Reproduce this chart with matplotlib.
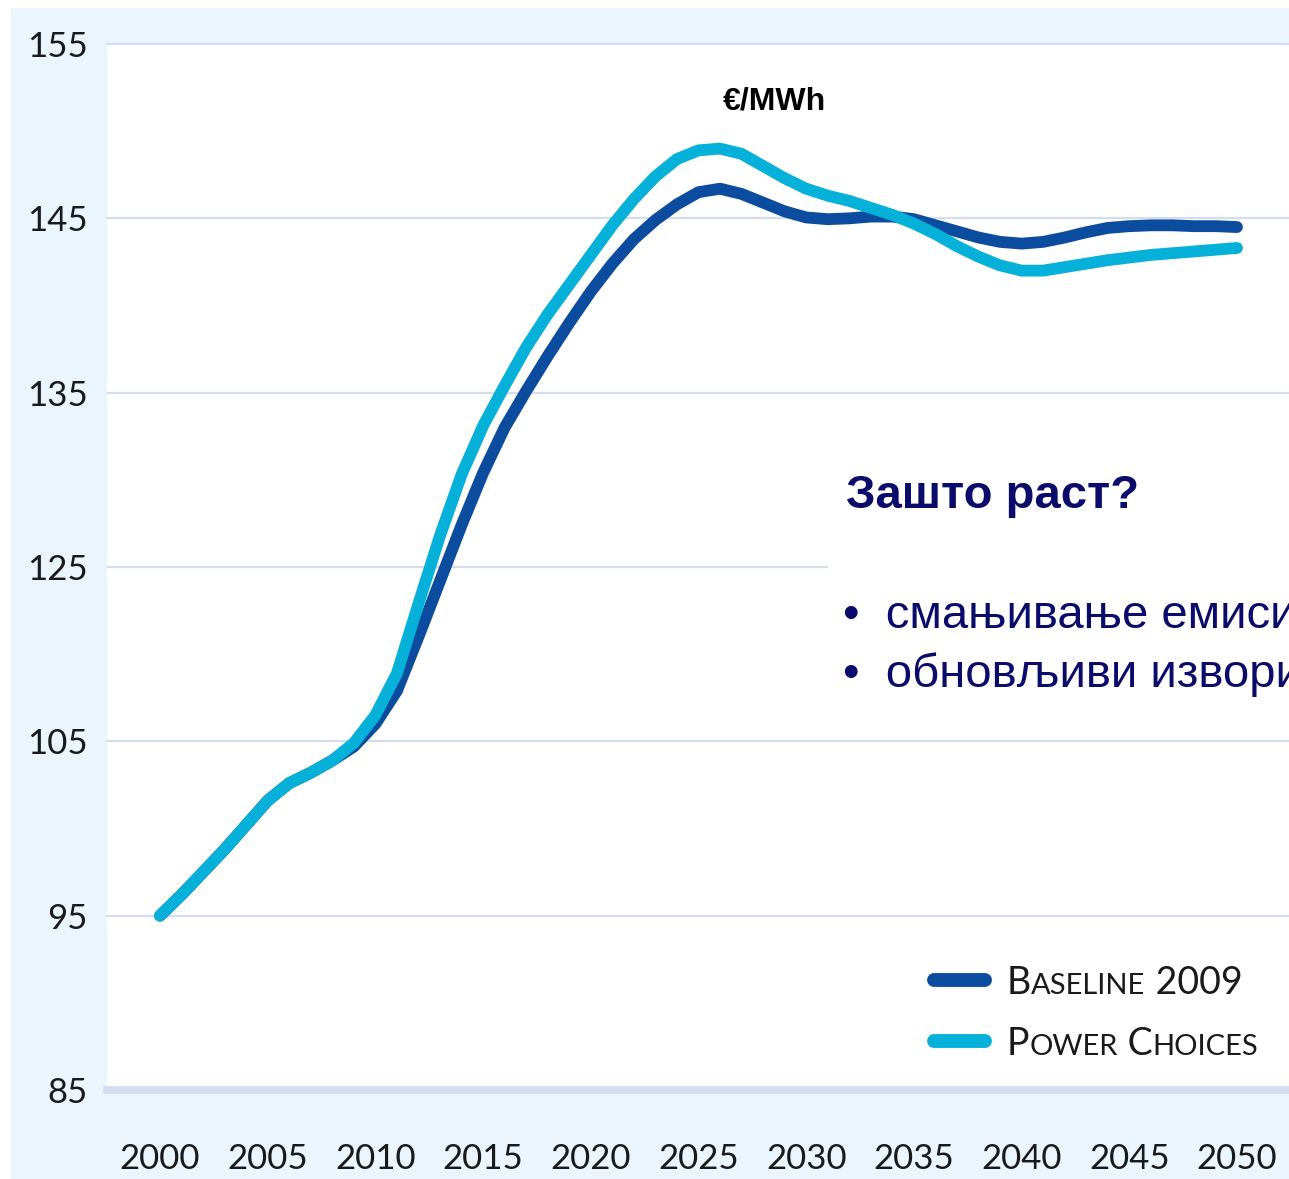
import matplotlib
matplotlib.use("Agg")
import numpy as np
import matplotlib.pyplot as plt
from matplotlib.patches import Rectangle
from matplotlib.ticker import NullLocator

# ---------- data (labelled axis units) ----------
years = list(range(2000, 2051))

baseline_2009 = [
    95.0, 96.2, 97.5, 98.8, 100.2, 101.6, 102.6, 103.2, 103.9, 104.7,
    107.0, 110.8, 117.0, 123.4, 127.4, 130.4, 133.0, 135.1, 137.1, 139.0,
    140.8, 142.4, 143.8, 144.9, 145.8, 146.5, 146.7, 146.4, 145.9, 145.4,
    145.05, 144.95, 145.0, 145.1, 145.1, 144.95, 144.6, 144.25, 143.9, 143.65,
    143.55, 143.65, 143.9, 144.2, 144.45, 144.55, 144.6, 144.6, 144.55, 144.55,
    144.5,
]
power_choices = [
    95.0, 96.2, 97.5, 98.8, 100.2, 101.6, 102.6, 103.2, 103.9, 104.9,
    108.0, 112.8, 120.8, 126.8, 130.3, 133.1, 135.4, 137.6, 139.5, 141.2,
    142.9, 144.6, 146.1, 147.4, 148.4, 148.9, 149.0, 148.7, 148.0, 147.3,
    146.7, 146.3, 146.0, 145.6, 145.2, 144.7, 144.1, 143.4, 142.8, 142.3,
    142.0, 142.0, 142.2, 142.4, 142.6, 142.75, 142.9, 143.0, 143.1, 143.2,
    143.3,
]

y_ticks = [85, 95, 105, 125, 135, 145, 155]
x_ticks = list(range(2000, 2051, 5))

DARK = "#0b4c9e"
CYAN = "#05b1d9"
GRID = "#d3dcf0"
BG = "#eaf5fd"
NAVY = "#0b0b6b"

W, H = 1289, 1179


def fx(px):
    return px / W


def fy(py):
    return 1 - py / H


# the original axis jumps from 105 straight to 125 with equal spacing
def fwd(v):
    v = np.asarray(v, dtype=float)
    return np.where(v <= 105, v, np.where(v >= 125, v - 10, 105 + (v - 105) / 2))


def inv(p):
    p = np.asarray(p, dtype=float)
    return np.where(p <= 105, p, np.where(p >= 115, p + 10, 105 + (p - 105) * 2))


fig = plt.figure(figsize=(W / 100, H / 100), dpi=100)
fig.patch.set_facecolor("white")
fig.patches.append(Rectangle((fx(11), 0), 1, fy(8), transform=fig.transFigure,
                             facecolor=BG, edgecolor="none", zorder=-10))

ax = fig.add_axes([fx(107), fy(1090), 1 - fx(107), fy(44) - fy(1090)])
ax.set_facecolor("white")
ax.set_yscale("function", functions=(fwd, inv))
ax.set_xlim(2000 - 53 / 21.54, 2050 + 52 / 21.54)
ax.set_ylim(85, 155)
ax.yaxis.set_minor_locator(NullLocator())

for v in y_ticks[1:]:
    ax.axhline(v, color=GRID, lw=1.6, zorder=1, clip_on=False)
for s in ["top", "right", "left"]:
    ax.spines[s].set_visible(False)
ax.spines["bottom"].set_color(GRID)
ax.spines["bottom"].set_linewidth(5.5)

ax.plot(years, baseline_2009, color=DARK, lw=8.5, solid_capstyle="round",
        solid_joinstyle="round", zorder=3)
ax.plot(years, power_choices, color=CYAN, lw=8.5, solid_capstyle="round",
        solid_joinstyle="round", zorder=4)

ax.set_yticks(y_ticks)
ax.set_yticklabels([str(t) for t in y_ticks])
ax.set_xticks(x_ticks)
ax.set_xticklabels([str(t) for t in x_ticks])
ax.tick_params(axis="both", length=0, labelsize=25, labelcolor="#1a1a1a")
ax.tick_params(axis="y", pad=14)
ax.tick_params(axis="x", pad=38)
for lab in ax.get_xticklabels() + ax.get_yticklabels():
    lab.set_fontfamily("Lato")

# unit label
fig.text(fx(774), fy(101), "€/MWh", ha="center", va="center", fontsize=23,
         fontweight="bold", family="Liberation Sans", color="black")

# white box with the annotation text (cut off at the right edge, as in the original)
fig.patches.append(Rectangle((fx(828), fy(715)), 1, fy(450) - fy(715),
                             transform=fig.transFigure, facecolor="white",
                             edgecolor="none", zorder=1))
fig.text(fx(846), fy(496), "Зашто раст?", ha="left", va="center", fontsize=34,
         fontweight="bold", family="Liberation Sans", color=NAVY, zorder=2)
fig.text(fx(843), fy(628), "•  смањивање емисија", ha="left", va="baseline",
         fontsize=34, family="Liberation Sans", color=NAVY, zorder=2)
fig.text(fx(843), fy(687), "•  обновљиви извори", ha="left", va="baseline",
         fontsize=34, family="Liberation Sans", color=NAVY, zorder=2)

# legend, drawn by hand because of the small caps
renderer = fig.canvas.get_renderer()


def small_caps(x, y, parts):
    for s, size in parts:
        t = fig.text(x, y, s, fontsize=size, family="Lato", color="#1a1a1a",
                     ha="left", va="baseline")
        x += t.get_window_extent(renderer=renderer).width / W


fig.lines.append(plt.Line2D([fx(934), fx(985)], [fy(980), fy(980)],
                            transform=fig.transFigure, color=DARK, lw=10,
                            solid_capstyle="round"))
fig.lines.append(plt.Line2D([fx(934), fx(985)], [fy(1041), fy(1041)],
                            transform=fig.transFigure, color=CYAN, lw=10,
                            solid_capstyle="round"))
small_caps(fx(1007), fy(994), [("B", 27), ("ASELINE", 21), (" 2009", 27)])
small_caps(fx(1007), fy(1055), [("P", 27), ("OWER", 21), (" C", 27), ("HOICES", 21)])

fig.savefig("out.png", dpi=100, facecolor=fig.get_facecolor())
